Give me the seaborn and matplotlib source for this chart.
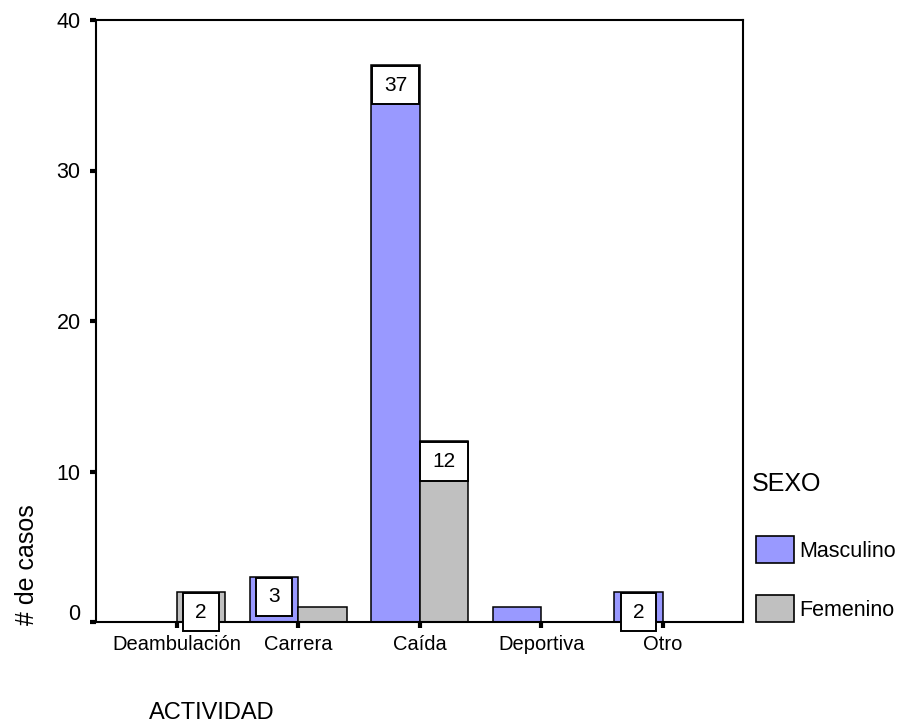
import matplotlib
matplotlib.use("Agg")
import matplotlib.pyplot as plt
from matplotlib.patches import Patch
from matplotlib.path import Path
from matplotlib.transforms import ScaledTranslation
import pandas as pd
import seaborn as sns

# Casos por actividad y sexo
actividades = ["Deambulación", "Carrera", "Caída", "Deportiva", "Otro"]
masculino = [0, 3, 37, 1, 2]
femenino = [2, 1, 12, 0, 0]
sexos = ["Masculino", "Femenino"]
colores = ["#9999ff", "#c0c0c0"]
y_ticks = [0, 10, 20, 30, 40]
min_etiqueta = 2  # bars under this count carry no value box

df = pd.DataFrame({
    "ACTIVIDAD": actividades * 2,
    "SEXO": [sexos[0]] * len(actividades) + [sexos[1]] * len(actividades),
    "casos": masculino + femenino,
})

sns.set_style("white")
plt.rcParams["font.family"] = ["Liberation Sans", "DejaVu Sans"]
plt.rcParams["text.color"] = "black"

fig = plt.figure(figsize=(9.03, 7.26), dpi=100)
ax = fig.add_axes([96 / 903, 1 - 622 / 726, (743 - 96) / 903, (622 - 20) / 726])

sns.barplot(data=df, x="ACTIVIDAD", y="casos", hue="SEXO", order=actividades,
            hue_order=sexos, palette=colores, saturation=1, width=0.8,
            edgecolor="black", linewidth=1.1, errorbar=None, legend=False, ax=ax)

ax.set_xlim(-0.665, 4.66)
ax.set_ylim(0, 40)
ax.set_yticks(y_ticks)
ax.set_xlabel("")
ax.set_ylabel("")
for sp in ax.spines.values():
    sp.set_visible(True)
    sp.set_linewidth(1.5)
    sp.set_color("black")
ax.tick_params(axis="both", which="major", direction="out", length=4, width=3,
               color="black", labelcolor="black", bottom=True, left=True)
ax.tick_params(axis="y", pad=7, labelsize=15.5)
ax.tick_params(axis="x", pad=5, labelsize=14.5)

# the zero label sits a little above its tick
for lbl in ax.get_yticklabels():
    if lbl.get_text() == "0":
        lbl.set_transform(lbl.get_transform() +
                          ScaledTranslation(0, 0.10, fig.dpi_scale_trans))


def caja_valor(x0, y0, width, height, mutation_size):
    px = 0.58 * mutation_size
    py = 0.46 * mutation_size
    verts = [(x0 - px, y0 - py), (x0 + width + px, y0 - py),
             (x0 + width + px, y0 + height + py), (x0 - px, y0 + height + py),
             (x0 - px, y0 - py)]
    return Path(verts, closed=True)


for cont in ax.containers:
    for bar in cont:
        h = bar.get_height()
        if h >= min_etiqueta:
            ax.annotate(f"{h:.0f}", xy=(bar.get_x() + bar.get_width() / 2, h),
                        xytext=(0, -14.5), textcoords="offset points",
                        ha="center", va="center", fontsize=15, color="black",
                        bbox=dict(boxstyle=caja_valor, fc="white", ec="black", lw=1.4),
                        zorder=5)

# legend: title as its own text, swatches below it
fig.text(752 / 903, 1 - 484 / 726, "SEXO", ha="left", va="center", fontsize=18)
handles = [Patch(facecolor=c, edgecolor="black", linewidth=1.2) for c in colores]
fig.legend(handles, sexos, loc="upper left",
           bbox_to_anchor=(756 / 903, 1 - 536 / 726), frameon=False,
           fontsize=15.5, handlelength=1.77, handleheight=1.55,
           handletextpad=0.25, labelspacing=1.5, borderpad=0, borderaxespad=0)

fig.text(27 / 903, 1 - 565 / 726, "# de casos", rotation=90, ha="center",
         va="center", fontsize=18)
fig.text(149 / 903, 1 - 713 / 726, "ACTIVIDAD", ha="left", va="center",
         fontsize=17)

fig.savefig("out.png", dpi=100)
